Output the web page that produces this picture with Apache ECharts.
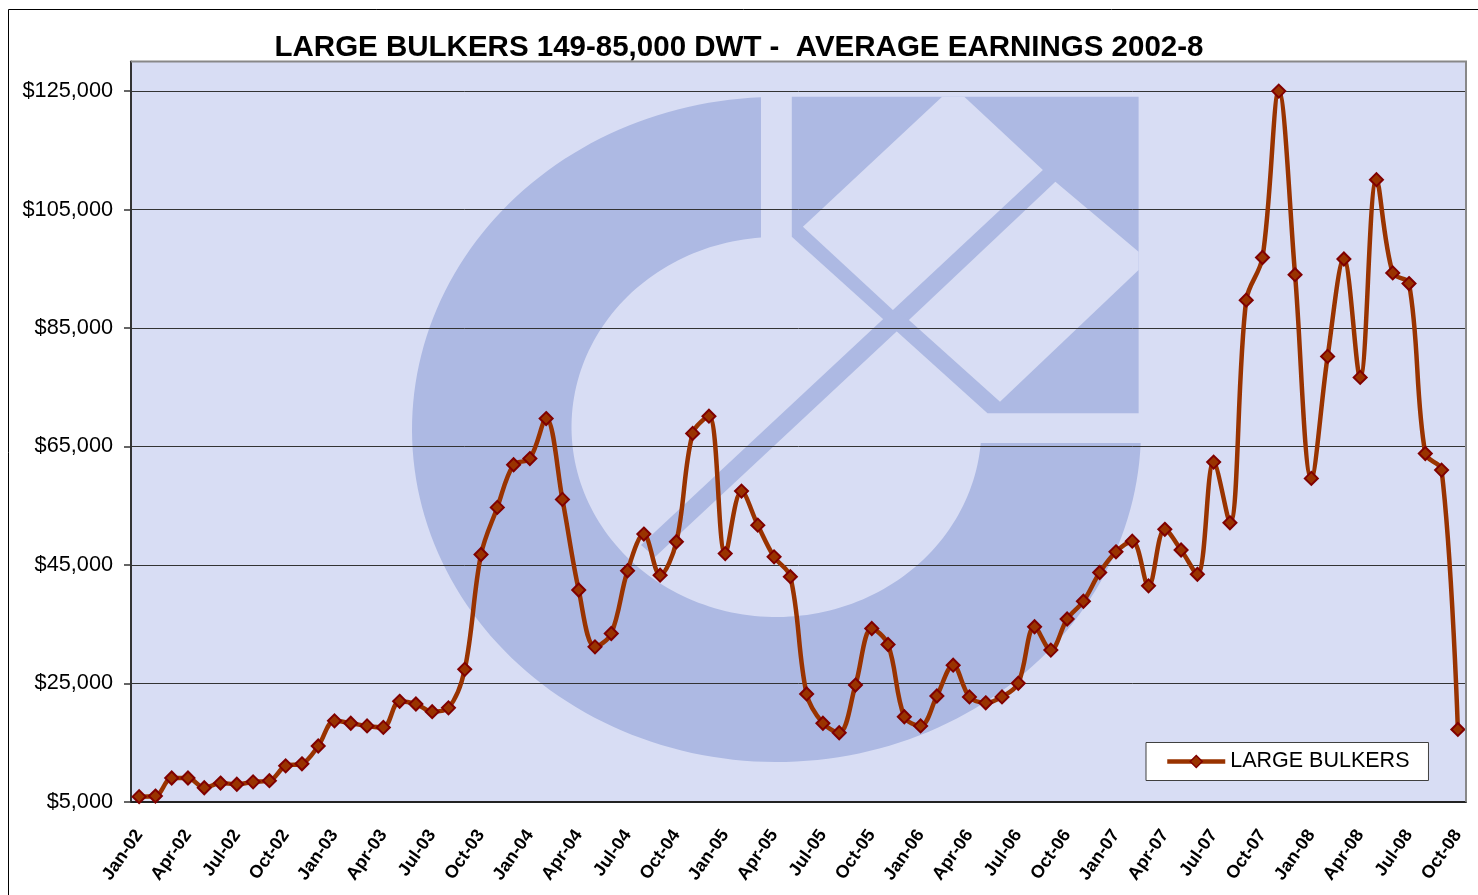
<!DOCTYPE html>
<html><head><meta charset="utf-8">
<script src="https://cdn.jsdelivr.net/npm/echarts@6/dist/echarts.min.js"></script>
<style>html,body{margin:0;padding:0;background:#fff}#c{width:1478px;height:895px}</style>
</head><body><div id="c"></div>
<script>
// ---- data ----
const monthNames = ['Jan','Feb','Mar','Apr','May','Jun','Jul','Aug','Sep','Oct','Nov','Dec'];
const yearSuffixes = ['02','03','04','05','06','07','08'];
const earnings2002 = [5850, 5950, 9000, 9000, 7350, 8150, 7950, 8350, 8550, 11050, 11400, 14400];
const earnings2003 = [18650, 18250, 17800, 17550, 21950, 21500, 20200, 20850, 27350, 46750, 54700, 61900];
const earnings2004 = [62950, 69700, 56050, 40750, 31150, 33400, 44000, 50200, 43250, 48900, 67200, 70100];
const earnings2005 = [46900, 57450, 51700, 46350, 43000, 23200, 18250, 16650, 24700, 34250, 31550, 19350];
const earnings2006 = [17800, 22850, 28050, 22700, 21700, 22700, 25000, 34550, 30600, 35850, 38850, 43700];
const earnings2007 = [47200, 49000, 41450, 51000, 47500, 43400, 62350, 52100, 89700, 96900, 125000, 94000];
const earnings2008 = [59600, 80200, 96650, 76650, 110050, 94300, 92500, 63800, 61000, 17200];
const yTickValues = [5000, 25000, 45000, 65000, 85000, 105000, 125000];
const seriesName = 'LARGE BULKERS';
const titleText = 'LARGE BULKERS 149-85,000 DWT -  AVERAGE EARNINGS 2002-8';

const values = [].concat(earnings2002, earnings2003, earnings2004, earnings2005, earnings2006, earnings2007, earnings2008);
let categories = [];
yearSuffixes.forEach(y => monthNames.forEach(m => categories.push(m + '-' + y)));
categories = categories.slice(0, values.length);

// ---- watermark geometry (decoration) ----
const WM = '#ADB9E3', BG = '#D8DDF4';
function ringPoints() {
  const pts = [];
  const oc = [776.5, 429.5], oa = 364.5, ob = 332.5;
  const ic = [776.5, 427], ia = 205, ib = 190;
  const o1 = Math.asin((443 - oc[1]) / ob), o2 = 1.5 * Math.PI - Math.asin((oc[0] - 761) / oa);
  const i1 = Math.asin((443 - ic[1]) / ib), i2 = 1.5 * Math.PI - Math.asin((ic[0] - 761) / ia);
  const N = 160;
  for (let k = 0; k <= N; k++) { const t = o1 + (o2 - o1) * k / N; pts.push([oc[0] + oa * Math.cos(t), oc[1] + ob * Math.sin(t)]); }
  for (let k = N; k >= 0; k--) { const t = i1 + (i2 - i1) * k / N; pts.push([ic[0] + ia * Math.cos(t), ic[1] + ib * Math.sin(t)]); }
  return pts;
}
const font = '"Liberation Sans", Arial, sans-serif';

const chart = echarts.init(document.getElementById('c'), null, {renderer: 'canvas'});
chart.setOption({
  animation: false,
  backgroundColor: '#fff',
  title: {
    text: titleText, left: 'center', top: 28,
    textStyle: {fontFamily: font, fontSize: 29.5, fontWeight: 'bold', color: '#000'}
  },
  grid: {left: 131, right: 12, top: 61.5, bottom: 93.3},
  legend: {
    data: [seriesName], left: 1146, top: 742.5,
    backgroundColor: '#fff', borderColor: '#404040', borderWidth: 1,
    padding: [8, 19, 8, 19], itemWidth: 58, itemHeight: 15,
    lineStyle: {width: 4.5, color: '#993300'},
    itemStyle: {color: '#993300', borderColor: '#800000', borderWidth: 1.5},
    textStyle: {fontFamily: font, fontSize: 21.5, color: '#000'}
  },
  xAxis: {
    type: 'category', data: categories, boundaryGap: true,
    axisLine: {lineStyle: {color: '#222', width: 2}},
    axisTick: {interval: 2, length: 7, lineStyle: {color: '#222', width: 1.5}},
    axisLabel: {interval: 2, rotate: 55, margin: 30, fontFamily: font, fontSize: 18, fontWeight: 'bold', color: '#000'},
    splitLine: {show: false}
  },
  yAxis: {
    type: 'value', min: 5000, max: 130000, interval: 20000,
    axisLine: {show: true, lineStyle: {color: '#333', width: 2}},
    axisTick: {show: true, length: 7, customValues: yTickValues, lineStyle: {color: '#333', width: 1.5}},
    axisLabel: {customValues: yTickValues, margin: 18, fontFamily: font, fontSize: 21.7, color: '#000',
      formatter: v => v > 125000 ? '' : '$' + Number(v).toLocaleString('en-US')},
    splitLine: {show: true, lineStyle: {color: '#333', width: 1}}
  },
  graphic: {elements: [
    {type: 'rect', z: -30, silent: true, shape: {x: 131, y: 61.5, width: 1335, height: 740.2}, style: {fill: BG}},
    {type: 'polygon', z: -20, silent: true, shape: {points: ringPoints()}, style: {fill: WM}},
    {type: 'polygon', z: -20, silent: true, shape: {points: [[791.8,96.7],[1138.6,96.7],[1138.6,413.3],[987.5,413.3],[791.8,236.7]]}, style: {fill: WM}},
    {type: 'polygon', z: -19, silent: true, shape: {points: [[802.9,226.7],[942.1,96.7],[964.3,96.7],[1042.9,170],[892.9,310]]}, style: {fill: BG}},
    {type: 'polygon', z: -19, silent: true, shape: {points: [[908.9,320],[1055.4,181.7],[1138.6,251.7],[1138.6,270],[1000,401.7]]}, style: {fill: BG}},
    {type: 'polygon', z: -18, silent: true, shape: {points: [[892.9,310],[908.9,320],[655,557],[641,545]]}, style: {fill: WM}},
    {type: 'polyline', z: 10, silent: true, shape: {points: [[131,61.5],[1466,61.5],[1466,801.7]]}, style: {stroke: '#888', lineWidth: 2, fill: null}},
    {type: 'rect', z: 10, silent: true, shape: {x: 8.5, y: 9.5, width: 1500, height: 1000}, style: {fill: null, stroke: '#000', lineWidth: 1}}
  ]},
  series: [{
    name: seriesName, type: 'line', data: values, smooth: 0.35,
    symbol: 'diamond', symbolSize: 13, showAllSymbol: true,
    lineStyle: {color: '#993300', width: 4.5},
    itemStyle: {color: '#993300', borderColor: '#800000', borderWidth: 2}
  }]
});
</script></body></html>
